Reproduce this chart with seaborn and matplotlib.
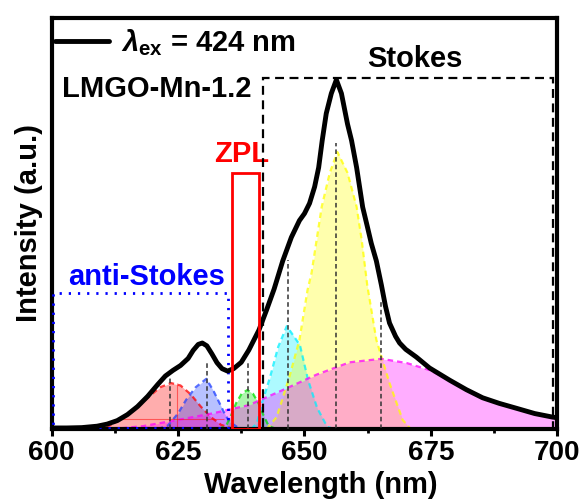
import numpy as np
import pandas as pd
import seaborn as sns
import matplotlib.pyplot as plt
from matplotlib.patches import Rectangle
from matplotlib.ticker import MultipleLocator

# Measured emission spectrum (excitation 424 nm)
wavelength = [600.0, 603, 606, 609, 611, 613, 615, 617, 619, 621, 622.5, 624, 625.5,
              627, 628, 629, 629.8, 630.7, 631.7, 632.7, 633.7, 634.8, 636, 637.5,
              639, 641, 642.5, 644, 645.7, 647.4, 649, 650, 651, 652, 652.8, 653.5,
              654.3, 655.3, 656.3, 657.3, 658.5, 659.3, 660.3, 661.5, 662.4, 663.2,
              664.2, 665.2, 666, 666.8, 668, 668.8, 670, 672.1, 674.7, 678.7, 682,
              685.2, 688.5, 691.9, 695.5, 699, 700]
intensity = [0.003, 0.003, 0.004, 0.008, 0.014, 0.024, 0.041, 0.064, 0.093, 0.127,
             0.151, 0.167, 0.181, 0.201, 0.224, 0.241, 0.245, 0.237, 0.214, 0.189,
             0.172, 0.165, 0.172, 0.190, 0.225, 0.282, 0.339, 0.399, 0.479, 0.546,
             0.594, 0.614, 0.643, 0.690, 0.745, 0.822, 0.899, 0.956, 0.995, 0.956,
             0.869, 0.822, 0.745, 0.632, 0.578, 0.529, 0.479, 0.410, 0.350, 0.302,
             0.264, 0.245, 0.227, 0.205, 0.174, 0.139, 0.112, 0.089, 0.073, 0.059,
             0.044, 0.034, 0.032]

# Fitted emission components
red_wl = [609, 611, 613, 616, 619, 621.5, 623.6, 625.5, 627.5, 629.5, 631.5, 633.5, 636]
red_int = [0.0, 0.006, 0.022, 0.050, 0.089, 0.119, 0.131, 0.124, 0.099, 0.064, 0.034, 0.012, 0.0]

blue_wl = [621, 623, 625, 626.6, 628.5, 630.6, 632, 633.2, 634.2, 635.2, 637, 639]
blue_int = [0.0, 0.010, 0.044, 0.083, 0.119, 0.143, 0.109, 0.074, 0.044, 0.020, 0.003, 0.0]

green_wl = [633, 634.5, 635.5, 636.5, 637.6, 638.7, 639.8, 640.9, 641.9, 642.9, 644.4]
green_int = [0.0, 0.009, 0.039, 0.074, 0.101, 0.111, 0.101, 0.074, 0.039, 0.009, 0.0]

cyan_wl = [639.5, 640.6, 641.6, 643.2, 644.8, 646.5, 649.1, 650.7, 652.5, 654.5, 656]
cyan_int = [0.0, 0.017, 0.074, 0.148, 0.234, 0.293, 0.239, 0.140, 0.060, 0.006, 0.0]

yellow_wl = [642.5, 644.5, 647, 649, 650.6, 651.4, 652.4, 653.4, 655, 656.5, 658.5,
             660.3, 661.3, 662.4, 664.2, 666.8, 669.4, 671]
yellow_int = [0.0, 0.034, 0.148, 0.254, 0.396, 0.445, 0.539, 0.633, 0.730, 0.789, 0.730,
              0.633, 0.539, 0.410, 0.254, 0.131, 0.026, 0.0]

magenta_wl = [612, 618, 625, 632, 639, 645.7, 652.4, 658.9, 665.2, 670.2, 674.7, 678.7,
              685.2, 691.9, 699, 700]
magenta_int = [0.0, 0.008, 0.026, 0.045, 0.068, 0.111, 0.155, 0.190, 0.200, 0.188, 0.168,
               0.139, 0.089, 0.057, 0.033, 0.031]

# Component centres and where their guide lines stop
center_wl = [623.4, 630.7, 638.8, 646.7, 656.2, 665.1]
center_top = [0.145, 0.188, 0.188, 0.482, 0.815, 0.368]

# Spectral regions
anti_stokes_range = (600.3, 634.8, 0.388)
zpl_range = (635.7, 641.0, 0.730)
stokes_range = (641.8, 699.1, 1.0)

sns.set_theme(style="ticks")
plt.rcParams["font.family"] = ["Liberation Sans", "DejaVu Sans"]
plt.rcParams["font.weight"] = "bold"
plt.rcParams["axes.labelweight"] = "bold"
plt.rcParams["text.color"] = "black"
plt.rcParams["axes.labelcolor"] = "black"
plt.rcParams["xtick.color"] = "black"
plt.rcParams["ytick.color"] = "black"
plt.rcParams["mathtext.fontset"] = "custom"
plt.rcParams["mathtext.it"] = "Liberation Sans:italic:bold"
plt.rcParams["mathtext.rm"] = "Liberation Sans:bold"
plt.rcParams["mathtext.bf"] = "Liberation Sans:bold"

fig = plt.figure(figsize=(5.84, 5.04), dpi=100)
ax = fig.add_axes([0.0882, 0.1488, 0.8664, 0.8155])

components = [
    (red_wl, red_int, "#ff0000"),
    (blue_wl, blue_int, "#2040ff"),
    (green_wl, green_int, "#00e000"),
    (cyan_wl, cyan_int, "#00f0ff"),
    (yellow_wl, yellow_int, "#ffff00"),
    (magenta_wl, magenta_int, "#ff00ff"),
]
for x, y, c in components:
    ax.fill_between(x, 0, y, color=c, alpha=0.32, lw=0, zorder=1)
    sns.lineplot(x=x, y=y, color=c, alpha=0.75, lw=1.6, linestyle=(0, (2.5, 1.8)),
                 ax=ax, zorder=2)

# thin FWHM guides on the red component
ax.hlines(0.028, 613, 634, colors="red", lw=0.8, alpha=0.5, zorder=2)
ax.vlines(624.8, 0, 0.131, colors="red", lw=0.8, alpha=0.5, zorder=2)

ax.vlines(center_wl, 0, center_top, colors="#333333", linestyles=(0, (3, 2)),
          lw=1.1, zorder=3)

sns.lineplot(x=wavelength, y=intensity, color="black", lw=3.5, ax=ax, zorder=5,
             label=r"$\lambda_{\mathrm{ex}}$ = 424 nm")

x0, x1, top = anti_stokes_range
ax.add_patch(Rectangle((x0, 0.002), x1 - x0, top - 0.002, fill=False, ec="blue",
                       lw=2, ls=(0, (0.8, 2.5)), zorder=4))
x0, x1, top = zpl_range
ax.add_patch(Rectangle((x0, 0), x1 - x0, top, fill=False, ec="red", lw=2, zorder=6))
x0, x1, top = stokes_range
ax.add_patch(Rectangle((x0, 0), x1 - x0, top, fill=False, ec="black", lw=1.6,
                       ls=(0, (4, 2.5)), zorder=4))

ax.text(0.0208, 0.808, "LMGO-Mn-1.2", transform=ax.transAxes, fontsize=21,
        fontweight="bold", ha="left", va="baseline", color="black")
ax.text(0.718, 0.880, "Stokes", transform=ax.transAxes, fontsize=21,
        fontweight="bold", ha="center", va="baseline", color="black")
ax.text(0.376, 0.650, "ZPL", transform=ax.transAxes, fontsize=21, color="red",
        fontweight="bold", ha="center", va="baseline")
ax.text(0.187, 0.350, "anti-Stokes", transform=ax.transAxes, fontsize=21, color="blue",
        fontweight="bold", ha="center", va="baseline")

leg = ax.legend(loc="center left", bbox_to_anchor=(0.007, 0.939), frameon=False,
                borderpad=0, borderaxespad=0, handlelength=1.85, handletextpad=0.4,
                prop={"size": 21, "weight": "bold"})
for t in leg.get_texts():
    t.set_color("black")

ax.set_xlim(600, 700)
ax.set_ylim(0, 1.171)
ax.xaxis.set_major_locator(MultipleLocator(25))
ax.xaxis.set_minor_locator(MultipleLocator(12.5))
ax.tick_params(axis="x", which="major", direction="out", length=5, width=2.2,
               labelsize=20, pad=3, colors="black")
ax.tick_params(axis="x", which="minor", direction="out", length=3, width=2,
               colors="black")
ax.tick_params(axis="y", left=False, labelleft=False)
for s in ax.spines.values():
    s.set_linewidth(3)
    s.set_color("black")

ax.set_xlabel("Wavelength (nm)", fontsize=21, fontweight="bold", color="black")
ax.set_ylabel("Intensity (a.u.)", fontsize=21, fontweight="bold", labelpad=6,
              color="black")
ax.xaxis.set_label_coords(0.533, -0.102)

fig.savefig("out.png", dpi=100)
